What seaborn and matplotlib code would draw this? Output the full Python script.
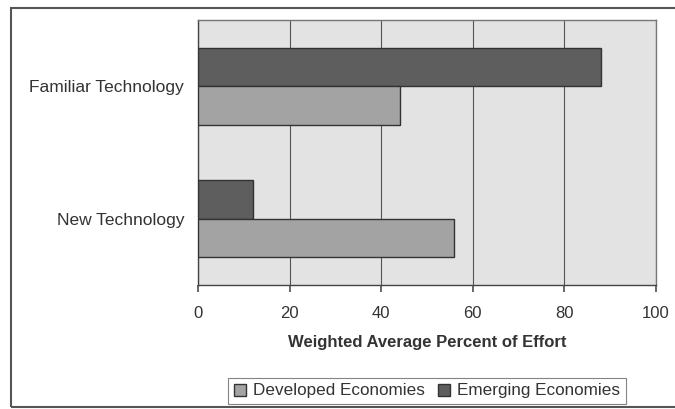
import numpy as np
import pandas as pd
import matplotlib
matplotlib.use("Agg")
import matplotlib.pyplot as plt
import seaborn as sns
from matplotlib.patches import Patch, Rectangle

categories = ["Familiar Technology", "New Technology"]
developed = [44, 56]
emerging = [88, 12]
series_names = ["Developed Economies", "Emerging Economies"]
xticks = [0, 20, 40, 60, 80, 100]
xlabel = "Weighted Average Percent of Effort"

colors = {"Developed Economies": "#a3a3a3", "Emerging Economies": "#5e5e5e"}

df = pd.DataFrame({
    "category": categories * 2,
    "series": [series_names[0]] * 2 + [series_names[1]] * 2,
    "value": developed + emerging,
})

sns.set_theme(style="white")
plt.rcParams["font.family"] = ["Liberation Sans", "DejaVu Sans"]

fig = plt.figure(figsize=(6.75, 4.09), dpi=100)
fig.patch.set_facecolor("white")
ax = fig.add_axes([198 / 675, 1 - 285 / 409, 458 / 675, 265 / 409])
ax.set_facecolor("#e3e3e3")

sns.barplot(data=df, y="category", x="value", hue="series",
            hue_order=["Emerging Economies", "Developed Economies"],
            order=categories, palette=colors, orient="h", width=0.58,
            edgecolor="#333333", linewidth=1.0, saturation=1, ax=ax,
            legend=False, zorder=3)

ax.set_xlim(0, 100)
ax.set_xticks(xticks)
ax.set_xticklabels([str(t) for t in xticks], fontsize=12, color="#333333")
ax.xaxis.grid(True, color="#555555", linewidth=0.8, zorder=0)
ax.set_axisbelow(True)
ax.set_ylim(1.5, -0.5)
ax.set_yticks([0, 1])
ax.set_yticklabels(categories, fontsize=12.5, color="#333333")
ax.set_yticks([-0.5, 0.5, 1.5], minor=True)
ax.tick_params(axis="y", which="major", length=0, pad=10)
ax.tick_params(axis="y", which="minor", length=5, color="#555555", direction="out")
ax.tick_params(axis="x", length=5, color="#555555", direction="out", pad=10, bottom=True)
ax.set_ylabel("")
ax.set_xlabel(xlabel, fontsize=12, fontweight="bold", color="#333333", labelpad=10)
for side, sp in ax.spines.items():
    sp.set_visible(True)
    sp.set_color("#777777")
    sp.set_linewidth(1.0)
ax.spines["left"].set_color("#444444")
ax.spines["bottom"].set_color("#444444")

handles = [Patch(facecolor=colors[s], edgecolor="#333333", label=s) for s in series_names]
leg = fig.legend(handles=handles, loc="center", bbox_to_anchor=(427 / 675, 1 - 391 / 409),
                 ncol=2, frameon=True, fontsize=12.3, handlelength=0.7, handleheight=0.7,
                 handletextpad=0.4, columnspacing=0.8, borderpad=0.35, fancybox=False)
leg.get_frame().set_edgecolor("#666666")
leg.get_frame().set_linewidth(0.8)
for t in leg.get_texts():
    t.set_color("#333333")

# outer chart frame
fig.add_artist(Rectangle((11 / 675, 1 - 407 / 409), 700 / 675, 399 / 409,
                         transform=fig.transFigure, fill=False,
                         edgecolor="#555555", linewidth=1.5))

fig.savefig("out.png", dpi=100)
